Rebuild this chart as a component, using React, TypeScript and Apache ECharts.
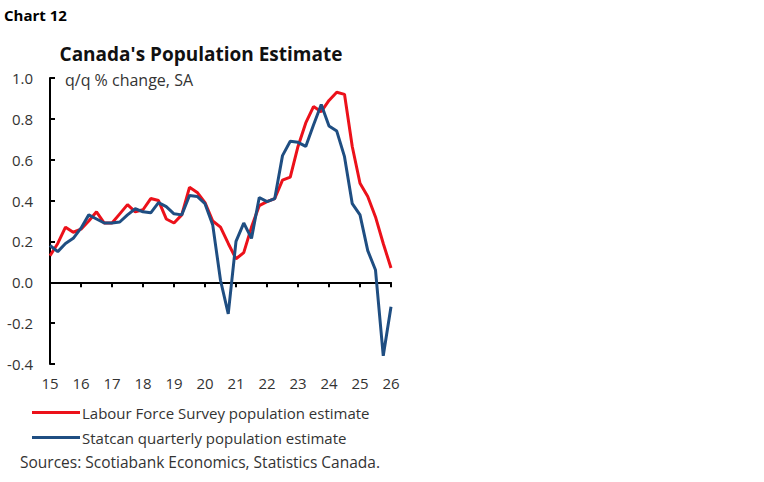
import React, { useEffect, useRef } from 'react';
import * as echarts from 'echarts';

// quarterly, 2015Q1 .. 2026Q1
const quarters = [
  '15Q1', '15Q2', '15Q3', '15Q4', '16Q1', '16Q2', '16Q3', '16Q4',
  '17Q1', '17Q2', '17Q3', '17Q4', '18Q1', '18Q2', '18Q3', '18Q4',
  '19Q1', '19Q2', '19Q3', '19Q4', '20Q1', '20Q2', '20Q3', '20Q4',
  '21Q1', '21Q2', '21Q3', '21Q4', '22Q1', '22Q2', '22Q3', '22Q4',
  '23Q1', '23Q2', '23Q3', '23Q4', '24Q1', '24Q2', '24Q3', '24Q4',
  '25Q1', '25Q2', '25Q3', '25Q4', '26Q1',
];

const lfsEstimate = [
  0.13, 0.19, 0.27, 0.245, 0.26, 0.3, 0.345, 0.29,
  0.29, 0.335, 0.38, 0.345, 0.355, 0.41, 0.4, 0.31,
  0.29, 0.33, 0.465, 0.44, 0.39, 0.3, 0.27, 0.19,
  0.115, 0.145, 0.27, 0.375, 0.395, 0.41, 0.5, 0.515,
  0.665, 0.78, 0.86, 0.835, 0.89, 0.93, 0.92, 0.665,
  0.485, 0.42, 0.32, 0.19, 0.07,
];

const statcanEstimate = [
  0.18, 0.15, 0.19, 0.215, 0.265, 0.33, 0.31, 0.29,
  0.29, 0.295, 0.33, 0.36, 0.345, 0.34, 0.39, 0.37,
  0.335, 0.33, 0.425, 0.42, 0.385, 0.28, 0.01, -0.155,
  0.2, 0.29, 0.215, 0.415, 0.395, 0.41, 0.62, 0.69,
  0.685, 0.665, 0.77, 0.87, 0.765, 0.74, 0.615, 0.385,
  0.33, 0.155, 0.06, -0.36, -0.12,
];

const FONT = "'Open Sans', sans-serif";
const RED = '#EC111A';
const BLUE = '#1F4E82';
const TEXT = '#333';

export default function App() {
  const chartRef = useRef<HTMLDivElement>(null);

  useEffect(() => {
    if (!chartRef.current) return;
    const chart = echarts.init(chartRef.current, null, { renderer: 'svg' });

    const option = {
      animation: false,
      textStyle: { fontFamily: FONT },
      title: [
        {
          text: 'Chart 12',
          left: 4,
          top: 7,
          padding: 0,
          textStyle: { fontFamily: FONT, fontSize: 15, fontWeight: 'bold', color: '#000' },
        },
        {
          text: "Canada's Population Estimate",
          left: 201,
          top: 44,
          padding: 0,
          textAlign: 'center',
          textStyle: { fontFamily: FONT, fontSize: 19, fontWeight: 'bold', color: '#111' },
        },
        {
          text: 'q/q % change, SA',
          left: 65,
          top: 72,
          padding: 0,
          textStyle: { fontFamily: FONT, fontSize: 16, fontWeight: 'normal', color: TEXT },
        },
        {
          text: 'Sources: Scotiabank Economics, Statistics Canada.',
          left: 200,
          top: 454,
          padding: 0,
          textAlign: 'center',
          textStyle: { fontFamily: FONT, fontSize: 15.5, fontWeight: 'normal', color: TEXT },
        },
      ],
      legend: {
        orient: 'vertical',
        left: 32,
        top: 405,
        padding: 0,
        icon: 'rect',
        itemWidth: 48,
        itemHeight: 3,
        itemGap: 10,
        textStyle: { fontFamily: FONT, fontSize: 15, color: TEXT, padding: [0, 0, 0, -3] },
        data: ['Labour Force Survey population estimate', 'Statcan quarterly population estimate'],
      },
      grid: { left: 50, right: 373, top: 78, bottom: 118 },
      xAxis: [
        {
          type: 'category',
          data: quarters,
          boundaryGap: false,
          position: 'bottom',
          axisLine: { show: false, onZero: false },
          axisTick: { show: false },
          splitLine: { show: false },
          axisLabel: {
            interval: 3,
            margin: 11,
            color: TEXT,
            fontSize: 15,
            fontFamily: FONT,
            formatter: (v: string) => v.slice(0, 2),
          },
        },
        {
          type: 'category',
          data: quarters,
          boundaryGap: false,
          position: 'top',
          axisLine: { show: true, onZero: true, lineStyle: { color: '#000', width: 2 } },
          axisTick: { show: true, inside: true, interval: 3, length: 5, lineStyle: { color: '#000', width: 2 } },
          axisLabel: { show: false },
          splitLine: { show: false },
        },
      ],
      yAxis: {
        type: 'value',
        min: -0.4,
        max: 1.0,
        interval: 0.2,
        axisLine: { show: true, onZero: false, lineStyle: { color: '#000', width: 2 } },
        axisTick: { show: true, inside: true, length: 5, lineStyle: { color: '#000', width: 2 } },
        splitLine: { show: false },
        axisLabel: {
          margin: 17,
          color: TEXT,
          fontSize: 15,
          fontFamily: FONT,
          formatter: (v: number) => v.toFixed(1),
        },
      },
      series: [
        {
          name: 'Labour Force Survey population estimate',
          type: 'line',
          data: lfsEstimate,
          showSymbol: false,
          lineStyle: { color: RED, width: 3 },
          itemStyle: { color: RED },
        },
        {
          name: 'Statcan quarterly population estimate',
          type: 'line',
          data: statcanEstimate,
          showSymbol: false,
          lineStyle: { color: BLUE, width: 3 },
          itemStyle: { color: BLUE },
        },
      ],
    };

    chart.setOption(option);
    return () => chart.dispose();
  }, []);

  return (
    <div
      ref={chartRef}
      style={{ position: 'fixed', left: 0, top: 0, width: 764, height: 482, background: '#fff' }}
    />
  );
}
